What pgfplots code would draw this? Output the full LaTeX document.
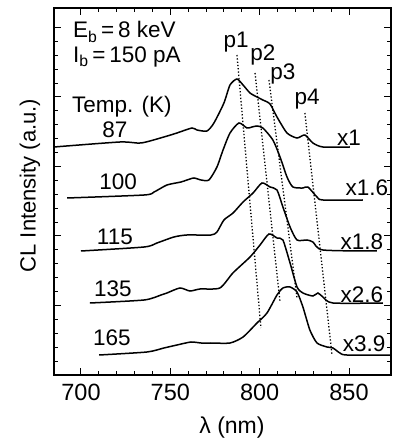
\documentclass[border=0pt]{standalone}
\usepackage{pgfplots}
\pgfplotsset{compat=1.18}
\usepackage{fontspec}
\setmainfont{Liberation Sans}
\begin{document}
\begin{tikzpicture}[x=1pt,y=1pt]
\useasboundingbox (0,0) rectangle (392,441);
\begin{axis}[
  at={(54pt,66pt)}, anchor=south west,
  scale only axis, width=337pt, height=367pt,
  xmin=684.9, xmax=873.5, ymin=0, ymax=367,
  xtick={700,750,800,850}, minor x tick num=4,
  ytick={0,69.5,139,208.5,278,347.5}, minor y tick num=4,
  yticklabels={},
  tick align=inside, major tick length=7pt, minor tick length=4pt,
  tick style={black, line width=1pt},
  axis line style={line width=1.3pt},
  xticklabel style={font=\fontsize{23.5}{23.5}\selectfont, yshift=-6pt},
  /pgf/number format/assume math mode=true,
  clip=true,
]
\addplot[black, line width=1.5pt, smooth, tension=0.4] coordinates {
(684.9,228) (721.8,233) (733.6,232) (746.4,238) (753.7,242) (762.1,247) (764.9,245) (770.5,244) (774.4,252) (780.0,272) (783.4,290) (787.3,296) (790.7,290) (794.6,282) (798.5,278) (801.8,275) (805.8,271) (809.7,258) (815.3,242) (820.9,237) (825.3,240) (829.8,232) (835.4,228) (850.5,228)};
\addplot[black, line width=1.5pt, smooth, tension=0.4] coordinates {
(692.2,177) (735.3,180) (740.9,183) (748.1,190) (756.0,193) (759.3,195) (763.2,197) (767.2,195) (771.6,195) (776.1,208) (779.5,225) (783.4,242) (788.4,252) (792.9,247) (795.7,248) (798.5,249) (801.8,247) (807.4,235) (811.4,218) (815.3,198) (818.6,188) (824.2,187) (827.0,188) (832.1,178) (835.4,175) (857.8,175)};
\addplot[black, line width=1.5pt, smooth, tension=0.4] coordinates {
(700.0,124) (735.3,128) (742.5,132) (752.0,138) (759.3,140) (772.7,140) (776.1,143) (780.0,155) (785.1,162) (790.7,173) (796.3,182) (801.3,192) (805.8,188) (809.7,185) (813.0,168) (817.0,148) (820.9,135) (826.5,135) (829.8,133) (835.4,125) (865.6,124)};
\addplot[black, line width=1.5pt, smooth, tension=0.4] coordinates {
(705.0,72) (735.3,75) (744.8,80) (748.1,82) (755.4,87) (761.0,84) (766.6,86) (777.7,87) (785.0,102) (794.6,118) (800.2,130) (805.2,141) (809.7,137) (813.0,135) (817.0,112) (820.9,88) (824.2,82) (829.8,79) (832.6,82) (835.4,78) (841.0,72) (869.0,72)};
\addplot[black, line width=1.5pt, smooth, tension=0.4] coordinates {
(710.1,20) (736.9,23) (746.4,27) (753.7,30) (761.6,33) (767.2,32) (772.7,32) (783.4,32) (790.7,38) (798.5,52) (804.1,62) (809.7,80) (813.0,87) (817.0,88) (820.9,83) (824.2,68) (828.1,45) (832.1,32) (837.7,28) (841.0,27) (844.9,22) (848.8,20) (874.0,20)};
% dotted peak lines
\addplot[black, line width=1.3pt, dotted] coordinates {(787.3,320) (800.7,47)};
\addplot[black, line width=1.3pt, dotted] coordinates {(797.4,302) (811.4,73)};
\addplot[black, line width=1.3pt, dotted] coordinates {(805.2,295) (820.9,77)};
\addplot[black, line width=1.3pt, dotted] coordinates {(825.3,262) (840.5,20)};
\begin{scope}[font=\fontsize{22.5}{22.5}\selectfont]
\node[inner sep=0pt] at (axis cs:786.8,333) {p1};
\node[inner sep=0pt] at (axis cs:801.8,320) {p2};
\node[inner sep=0pt] at (axis cs:813.0,301) {p3};
\node[inner sep=0pt] at (axis cs:826.5,276) {p4};
\node at (axis cs:719.0,245) {87};
\node at (axis cs:720.8,193) {100};
\node at (axis cs:719.0,138) {115};
\node at (axis cs:717.9,86) {135};
\node at (axis cs:717.3,37) {165};
\node at (axis cs:722.9,268) {Temp. (K)};
\node[anchor=west, inner sep=0pt] at (axis cs:695.5,343) {E\textsubscript{b}\,=\,8 keV};
\node[anchor=west, inner sep=0pt] at (axis cs:695.5,318) {I\textsubscript{b}\,=\,150 pA};
\node at (axis cs:850.0,237) {x1};
\node at (axis cs:860.0,187) {x1.6};
\node at (axis cs:857.2,133) {x1.8};
\node at (axis cs:857.2,80) {x2.6};
\node at (axis cs:858.4,31) {x3.9};
\end{scope}
\end{axis}
\node[rotate=90, font=\fontsize{22}{22}\selectfont] at (30,255.5) {CL Intensity (a.u.)};
\node[font=\fontsize{23}{23}\selectfont] at (232,13) {λ (nm)};
\end{tikzpicture}
\end{document}
